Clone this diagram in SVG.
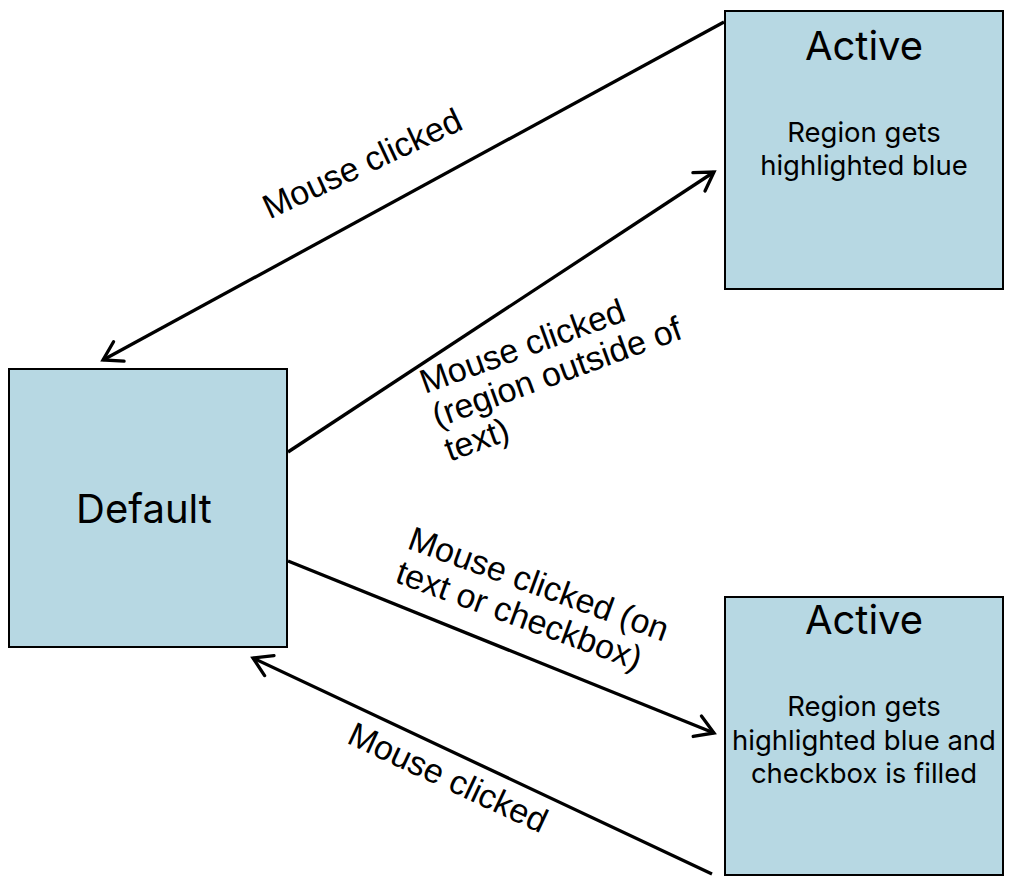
<svg xmlns="http://www.w3.org/2000/svg" width="1010" height="884" viewBox="0 0 1010 884">
<style>
.box{fill:#b7d8e3;stroke:#000;stroke-width:2}
.title{font-family:Inter,"Liberation Sans",sans-serif;font-size:40px;fill:#000;text-anchor:middle}
.body{font-family:Inter,"Liberation Sans",sans-serif;font-size:27.5px;fill:#000;text-anchor:middle}
.edge{stroke:#000;stroke-width:3.3;fill:none}
.lbl{font-family:"Liberation Sans",Arial,sans-serif;font-size:34px;fill:#000}
</style>
<defs>
<marker id="arr" markerUnits="userSpaceOnUse" viewBox="-22 -14 26 28" refX="0" refY="0" markerWidth="26" markerHeight="28" orient="auto" overflow="visible">
<path d="M-18,-11 L0,0 L-18,11" fill="none" stroke="#000" stroke-width="3.3" stroke-linecap="round" stroke-linejoin="miter"/>
</marker>
</defs>
<rect width="1010" height="884" fill="#fff"/>
<g id="edges">
<line class="edge" x1="724" y1="22" x2="103" y2="360" marker-end="url(#arr)"/>
<line class="edge" x1="288" y1="452" x2="714" y2="172" marker-end="url(#arr)"/>
<line class="edge" x1="288" y1="561" x2="714" y2="733" marker-end="url(#arr)"/>
<line class="edge" x1="712" y1="874" x2="253" y2="658" marker-end="url(#arr)"/>
<text class="lbl" text-anchor="middle" transform="translate(367,174) rotate(-25)">Mouse clicked</text>
<text class="lbl" transform="translate(425,394) rotate(-20)"><tspan x="0" y="0">Mouse clicked</tspan><tspan x="0" y="36">(region outside of</tspan><tspan x="0" y="72">text)</tspan></text>
<text class="lbl" transform="translate(406,548) rotate(20)"><tspan x="0" y="0">Mouse clicked (on</tspan><tspan x="0" y="36">text or checkbox)</tspan></text>
<text class="lbl" text-anchor="middle" transform="translate(443,788) rotate(25)">Mouse clicked</text>
</g>
<g id="active-top">
<rect class="box" x="725" y="11" width="278" height="278"/>
<text class="title" x="864" y="60">Active</text>
<text class="body" x="864" y="142">Region gets</text>
<text class="body" x="864" y="175">highlighted blue</text>
</g>
<g id="default">
<rect class="box" x="9" y="369" width="278" height="278"/>
<text class="title" x="144" y="523">Default</text>
</g>
<g id="active-bottom">
<rect class="box" x="725" y="597" width="278" height="278"/>
<text class="title" x="864" y="634">Active</text>
<text class="body" x="864" y="716">Region gets</text>
<text class="body" x="864" y="750">highlighted blue and</text>
<text class="body" x="864" y="783">checkbox is filled</text>
</g>
</svg>
